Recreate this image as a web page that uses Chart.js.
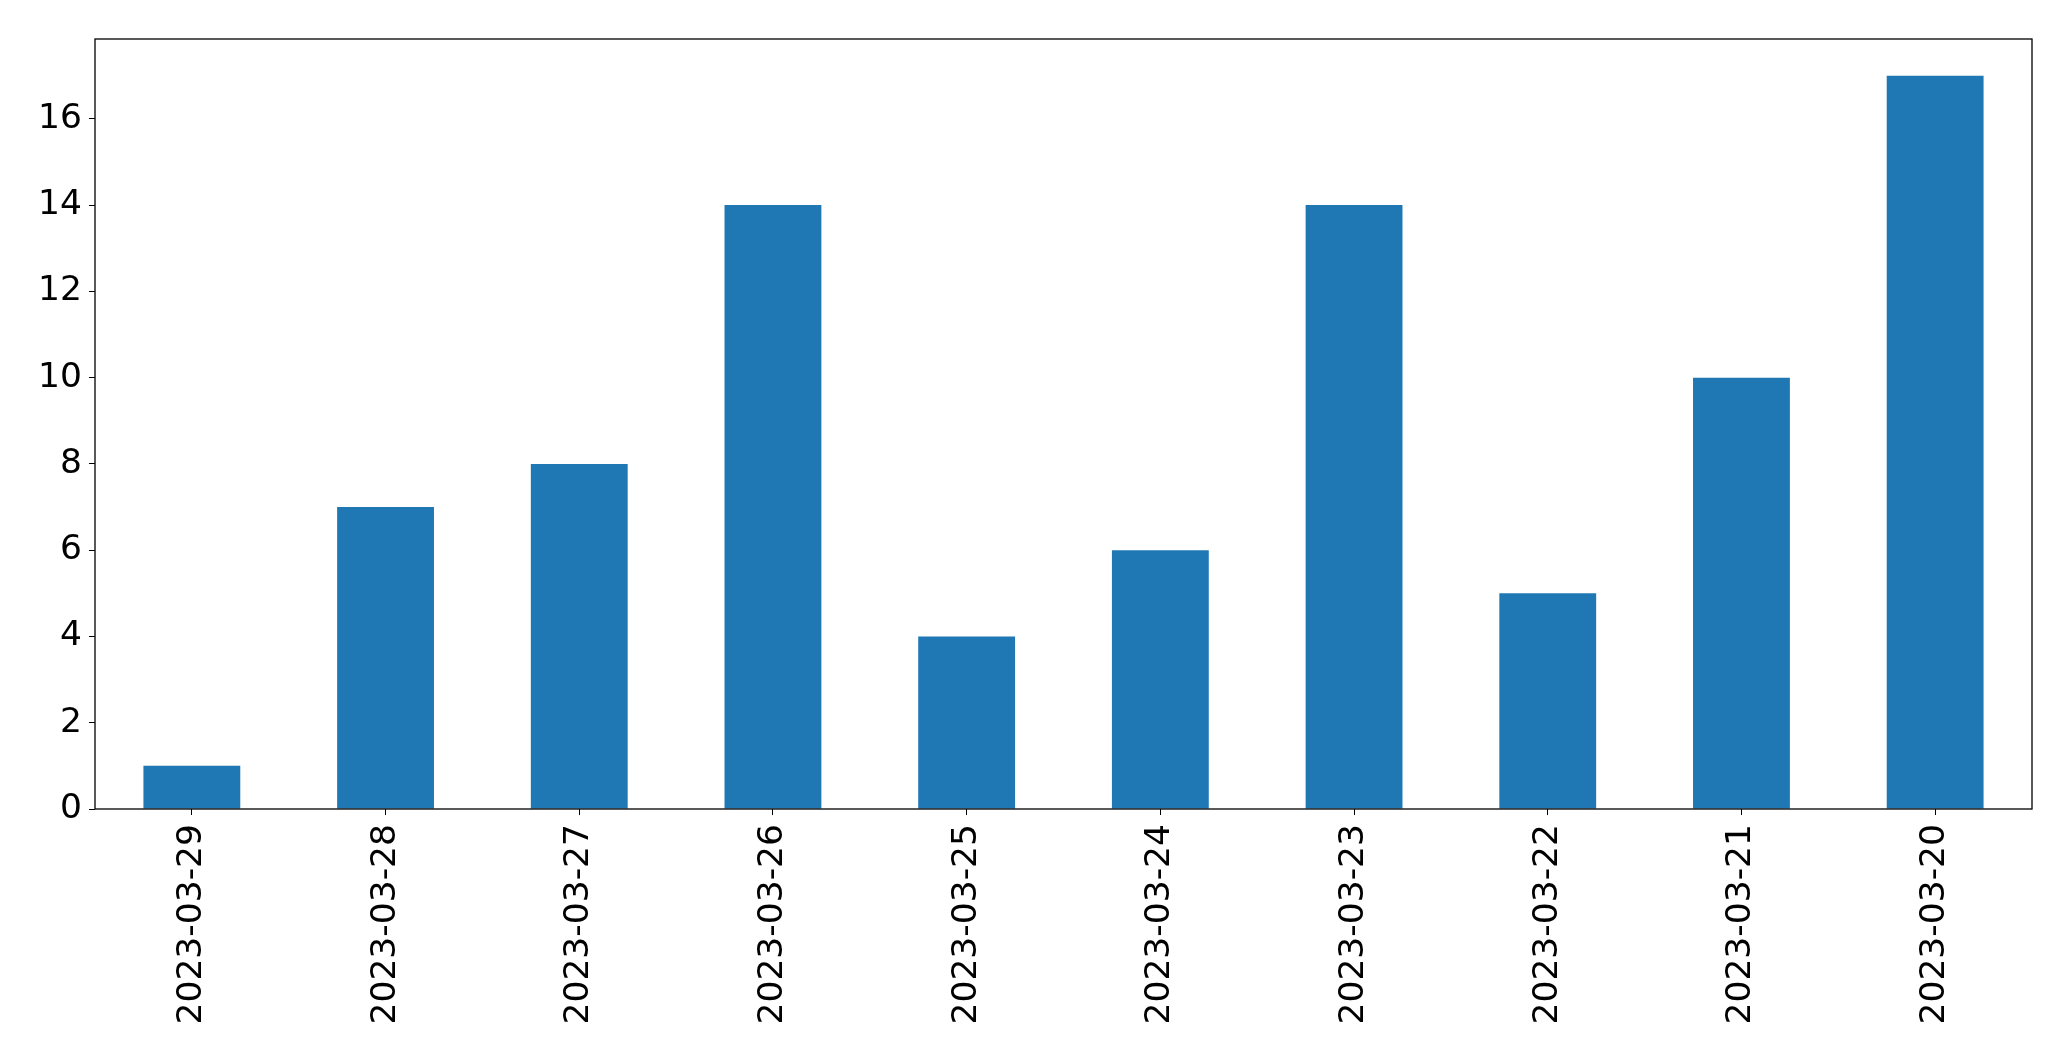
<!DOCTYPE html>
<html>
<head>
<meta charset="utf-8">
<script src="https://cdn.jsdelivr.net/npm/chart.js@4"></script>
<style>
  html, body { margin: 0; padding: 0; background: #fff; }
  #wrap { width: 2071px; height: 1061px; }
</style>
</head>
<body>
<div id="wrap"><canvas id="chart" width="2071" height="1061"></canvas></div>
<script>
const dates = ['2023-03-29', '2023-03-28', '2023-03-27', '2023-03-26', '2023-03-25',
               '2023-03-24', '2023-03-23', '2023-03-22', '2023-03-21', '2023-03-20'];
const counts = [1, 7, 8, 14, 4, 6, 14, 5, 10, 17];
const yTicks = [0, 2, 4, 6, 8, 10, 12, 14, 16];

// frame round the plot, like matplotlib's spines
const frame = {
  id: 'frame',
  afterDatasetsDraw(chart) {
    const a = chart.chartArea, ctx = chart.ctx;
    ctx.save();
    ctx.strokeStyle = '#000';
    ctx.lineWidth = 1.3;
    ctx.strokeRect(a.left, a.top, a.right - a.left, a.bottom - a.top);
    ctx.restore();
  }
};

const font = { family: 'DejaVu Sans', size: 34.5 };

new Chart(document.getElementById('chart'), {
  type: 'bar',
  data: {
    labels: dates,
    datasets: [{ data: counts, backgroundColor: '#1f77b4', categoryPercentage: 1, barPercentage: 0.5 }]
  },
  options: {
    responsive: false, animation: false,
    layout: { padding: { left: 0, top: 39, right: 39, bottom: 0 } },
    plugins: { legend: { display: false }, tooltip: { enabled: false } },
    scales: {
      x: {
        offset: true,
        grid: { offset: false, drawOnChartArea: false, drawTicks: true, tickLength: 6, color: '#000' },
        border: { display: false },
        ticks: { color: '#000', font, maxRotation: 90, minRotation: 90, padding: 9, autoSkip: false },
        afterFit(s) { s.height = 1061 - 809; }
      },
      y: {
        min: 0, max: 17.85,
        afterBuildTicks(s) { s.ticks = yTicks.map(v => ({ value: v })); },
        grid: { drawOnChartArea: false, drawTicks: true, tickLength: 6, color: '#000' },
        border: { display: false },
        ticks: { color: '#000', font, padding: 7 },
        afterFit(s) { s.width = 95; }
      }
    }
  },
  plugins: [frame]
});
</script>
</body>
</html>
